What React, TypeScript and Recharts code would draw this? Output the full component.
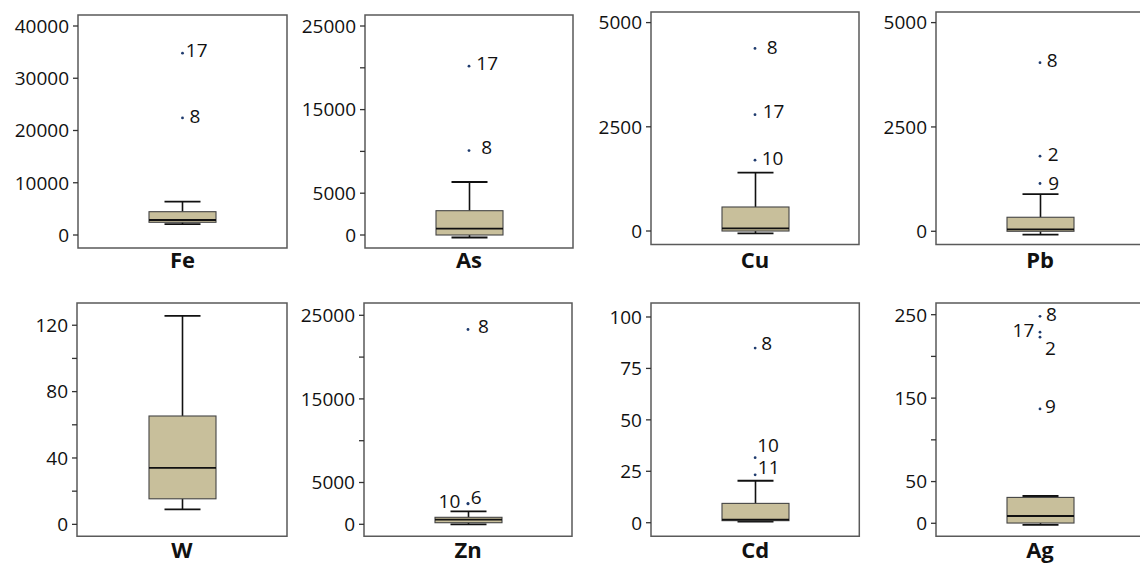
import React from 'react';
import { ComposedChart, Bar, Scatter, XAxis, YAxis, ReferenceArea } from 'recharts';

// ---------- data ----------
const elements = ['Fe', 'As', 'Cu', 'Pb', 'W', 'Zn', 'Cd', 'Ag'];
const whiskerLow = [2100, -300, -55, -80, 9, 0, 0.6, -2];
const q1Values = [2430, 0, 0, 0, 15.4, 190, 1.0, 0.3];
const medianValues = [2870, 754, 65, 48, 34, 550, 1.5, 8.7];
const q3Values = [4460, 2907, 576, 336, 65.3, 837, 9.4, 31];
const whiskerHigh = [6370, 6340, 1402, 888, 125.6, 1555, 20.4, 32.7];

const outliersFe = [{ id: '17', v: 34800 }, { id: '8', v: 22400 }];
const outliersAs = [{ id: '17', v: 20200 }, { id: '8', v: 10100 }];
const outliersCu = [{ id: '8', v: 4380 }, { id: '17', v: 2790 }, { id: '10', v: 1700 }];
const outliersPb = [{ id: '8', v: 4040 }, { id: '2', v: 1800 }, { id: '9', v: 1145 }];
const outliersW: { id: string; v: number }[] = [];
const outliersZn = [{ id: '8', v: 23300 }, { id: '10', v: 2460 }, { id: '6', v: 2460 }];
const outliersCd = [{ id: '8', v: 84.9 }, { id: '10', v: 31.6 }, { id: '11', v: 23.3 }];
const outliersAg = [{ id: '8', v: 248 }, { id: '17', v: 229 }, { id: '2', v: 223 }, { id: '9', v: 137 }];
const outlierLists = [outliersFe, outliersAs, outliersCu, outliersPb, outliersW, outliersZn, outliersCd, outliersAg];

const axisDomains: [number, number][] = [
  [-2488, 42105],
  [-1555, 26316],
  [-326, 5254],
  [-319, 5254],
  [-7.2, 133.4],
  [-1435, 26471],
  [-6.6, 106.8],
  [-15.6, 264],
];
const axisTicks = [
  [0, 10000, 20000, 30000, 40000],
  [0, 5000, 10000, 15000, 20000, 25000],
  [0, 2500, 5000],
  [0, 2500, 5000],
  [0, 20, 40, 60, 80, 100, 120],
  [0, 5000, 10000, 15000, 20000, 25000],
  [0, 25, 50, 75, 100],
  [0, 50, 100, 150, 200, 250],
];
const labeledTicks = [
  [0, 10000, 20000, 30000, 40000],
  [0, 5000, 15000, 25000],
  [0, 2500, 5000],
  [0, 2500, 5000],
  [0, 40, 80, 120],
  [0, 5000, 15000, 25000],
  [0, 25, 50, 75, 100],
  [0, 50, 150, 250],
];

// ---------- layout / style ----------
// plot rectangles: [left, top, width, height]
const plotRects = [
  [78, 15, 209, 233],
  [365, 15, 208, 233],
  [651, 11.7, 208, 232.6],
  [936, 11.7, 208, 232.6],
  [77.3, 303, 210, 233.3],
  [364.3, 303, 208, 233.3],
  [651, 303, 208.3, 233.3],
  [936, 303, 208, 233.3],
];
const nameOffsets = [20, 20, 23, 23, 21.5, 21.5, 21.5, 21.5];
const labelStyle: Record<string, { dx: number; dy: number; anchor?: string }> = {
  'Fe-17': { dx: 3.3, dy: -2.7 },
  'Fe-8': { dx: 7, dy: -1.3 },
  'As-17': { dx: 7.3, dy: -2.7 },
  'As-8': { dx: 12.3, dy: -3 },
  'Cu-8': { dx: 11.7, dy: -1.7 },
  'Cu-17': { dx: 7.7, dy: -3.3 },
  'Cu-10': { dx: 6.7, dy: -2.3 },
  'Pb-8': { dx: 6.7, dy: -2.7 },
  'Pb-2': { dx: 7.7, dy: -2 },
  'Pb-9': { dx: 8.3, dy: 0 },
  'Zn-8': { dx: 10, dy: -3.3 },
  'Zn-10': { dx: -7.7, dy: -2.7, anchor: 'end' },
  'Zn-6': { dx: 2.7, dy: -6.7 },
  'Cd-8': { dx: 6, dy: -5.3 },
  'Cd-10': { dx: 2, dy: -12.5 },
  'Cd-11': { dx: 2.7, dy: -7.2 },
  'Ag-8': { dx: 6, dy: -2.3 },
  'Ag-17': { dx: -5.7, dy: -1.7, anchor: 'end' },
  'Ag-2': { dx: 5, dy: 11 },
  'Ag-9': { dx: 5, dy: -2.7 },
};

const FONT = '"Open Sans", "Liberation Sans", sans-serif';
const BOX_FILL = '#C8BF9B';
const TEXT = '#111111';
const PAGE_H = 564;

const BoxShape = (props: any) => {
  const { x, y, width, height, payload } = props;
  if (x == null || y == null) return null;
  const top = Math.min(y, y + height);
  const bot = Math.max(y, y + height);
  const span = payload.hi - payload.lo;
  const py = (v: number) => bot - ((v - payload.lo) / span) * (bot - top);
  const cx = x + width / 2;
  const capHalf = 18;
  const yHi = py(payload.hi);
  const yQ3 = py(payload.q3);
  const yMed = py(payload.med);
  const yQ1 = py(payload.q1);
  const yLo = py(payload.lo);
  return (
    <g>
      <line x1={cx} x2={cx} y1={yHi} y2={yQ3} stroke="#111" strokeWidth={1.6} />
      <line x1={cx} x2={cx} y1={yQ1} y2={yLo} stroke="#111" strokeWidth={1.6} />
      <line x1={cx - capHalf} x2={cx + capHalf} y1={yHi} y2={yHi} stroke="#111" strokeWidth={1.8} />
      <line x1={cx - capHalf} x2={cx + capHalf} y1={yLo} y2={yLo} stroke="#111" strokeWidth={1.8} />
      <rect x={x} y={yQ3} width={width} height={Math.max(yQ1 - yQ3, 0.5)} fill={BOX_FILL} stroke="#444" strokeWidth={1.1} />
      <line x1={x} x2={x + width} y1={yMed} y2={yMed} stroke="#111" strokeWidth={1.8} />
    </g>
  );
};

const makeOutlierShape = (el: string) => (props: any) => {
  const { cx, cy, payload } = props;
  if (cx == null || cy == null) return null;
  const st = labelStyle[`${el}-${payload.id}`] || { dx: 6, dy: -2 };
  return (
    <g>
      <circle cx={cx} cy={cy} r={1.4} fill="#1F3B6E" />
      <text
        x={cx + st.dx}
        y={cy + st.dy}
        dy="0.36em"
        textAnchor={st.anchor || 'start'}
        fontFamily={FONT}
        fontSize={19}
        fill={TEXT}
      >
        {payload.id}
      </text>
    </g>
  );
};

const Panel = ({ i }: { i: number }) => {
  const el = elements[i];
  const [pl, pt, pw, ph] = plotRects[i];
  const yAxisW = 80;
  const mTop = 5;
  const mRight = 5;
  const xAxisH = Math.min(35, PAGE_H - (pt + ph));
  const chartW = yAxisW + pw + mRight;
  const chartH = mTop + ph + xAxisH;
  const data = [
    {
      name: el,
      lo: whiskerLow[i],
      q1: q1Values[i],
      med: medianValues[i],
      q3: q3Values[i],
      hi: whiskerHigh[i],
      range: [whiskerLow[i], whiskerHigh[i]],
    },
  ];
  const outliers = outlierLists[i].map((o) => ({ name: el, v: o.v, id: o.id }));
  const dom = axisDomains[i];
  const labeled = labeledTicks[i];
  const nameOff = nameOffsets[i];
  return (
    <div style={{ position: 'absolute', left: pl - yAxisW, top: pt - mTop }}>
      <ComposedChart width={chartW} height={chartH} data={data} margin={{ top: mTop, right: mRight, bottom: 0, left: 0 }}>
        <XAxis
          dataKey="name"
          type="category"
          allowDuplicatedCategory={false}
          height={xAxisH}
          axisLine={false}
          tickLine={false}
          tickSize={0}
          tickMargin={0}
          interval={0}
          tick={(p: any) => (
            <text
              x={p.x}
              y={p.y + nameOff}
              textAnchor="middle"
              fontFamily={FONT}
              fontWeight={700}
              fontSize={22}
              fill={TEXT}
            >
              {p.payload.value}
            </text>
          )}
        />
        <YAxis
          type="number"
          width={yAxisW}
          domain={dom}
          allowDataOverflow
          ticks={axisTicks[i]}
          interval={0}
          axisLine={false}
          tickSize={5}
          tickMargin={4}
          tickLine={{ stroke: '#333', strokeWidth: 1.3 }}
          tick={(p: any) =>
            labeled.includes(p.payload.value) ? (
              <text
                x={p.x}
                y={p.y}
                dy="0.36em"
                textAnchor="end"
                fontFamily={FONT}
                fontSize={19}
                fill={TEXT}
              >
                {p.payload.value}
              </text>
            ) : (
              <g />
            )
          }
        />
        <ReferenceArea y1={dom[0]} y2={dom[1]} fill="none" stroke="#5a5a5a" strokeWidth={1.5} ifOverflow="visible" />
        <Bar dataKey="range" barSize={67} isAnimationActive={false} shape={BoxShape} />
        <Scatter data={outliers} dataKey="v" isAnimationActive={false} shape={makeOutlierShape(el)} />
      </ComposedChart>
    </div>
  );
};

export default function App() {
  return (
    <div
      style={{
        position: 'absolute',
        left: 0,
        top: 0,
        width: 1140,
        height: PAGE_H,
        overflow: 'hidden',
        background: '#ffffff',
      }}
    >
      {elements.map((_, i) => (
        <Panel key={i} i={i} />
      ))}
    </div>
  );
}
